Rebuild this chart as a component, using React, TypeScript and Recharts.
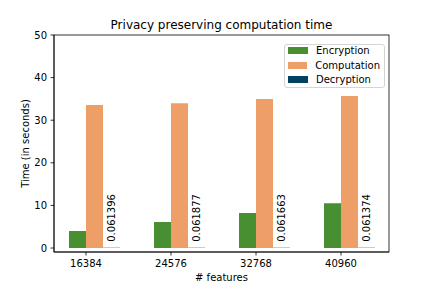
import { BarChart, Bar, XAxis, YAxis, Legend, LabelList } from 'recharts'

const features = ['16384', '24576', '32768', '40960']
const encryption = [4.0, 6.1, 8.2, 10.5]
const computation = [33.6, 34.0, 35.0, 35.7]
const decryption = [0.061396, 0.061877, 0.061663, 0.061374]
const yTicks = [0, 10, 20, 30, 40, 50]

const SERIES = [
	{ key: 'encryption', name: 'Encryption', color: '#488f31' },
	{ key: 'computation', name: 'Computation', color: '#ee9f67' },
	{ key: 'decryption', name: 'Decryption', color: '#00425f' },
]

const data = features.map((f, i) => ({
	feature: f,
	encryption: encryption[i],
	computation: computation[i],
	decryption: decryption[i],
}))

const FONT = '"DejaVu Sans", sans-serif'
const BAR = 17
const TEXT = '#000'

// plot frame (matplotlib draws all four spines)
const PLOT = { left: 54, top: 35, right: 389, bottom: 252 }

// matplotlib puts the tick at the left edge of the middle bar, not the group centre
function FeatureTick(props: any) {
	const { x, y, payload } = props
	const tx = x - BAR / 2
	return (
		<g>
			<line x1={tx} x2={tx} y1={y - 7} y2={y - 3.5} stroke={TEXT} strokeWidth={0.8} />
			<text x={tx} y={y} dy="0.75em" textAnchor="middle" fontSize={10} fontFamily={FONT} fill={TEXT}>
				{payload.value}
			</text>
		</g>
	)
}

function VerticalValue(props: any) {
	const { x, y, width, value } = props
	const cx = x + width / 2
	const by = y - 6
	return (
		<text
			x={cx}
			y={by}
			transform={`rotate(-90 ${cx} ${by})`}
			dy="0.35em"
			textAnchor="start"
			fontSize={10}
			fontFamily={FONT}
			fill={TEXT}>
			{value}
		</text>
	)
}

function LegendBox() {
	return (
		<div
			style={{
				border: '1px solid #d5d5d5',
				borderRadius: 3,
				background: 'rgba(255,255,255,0.8)',
				height: 44,
				padding: '0 4px 0 3px',
				fontFamily: FONT,
				fontSize: 10,
				color: TEXT,
				boxSizing: 'border-box',
			}}>
			<div style={{ marginTop: -2 }}>
				{SERIES.map((s) => (
					<div key={s.key} style={{ display: 'flex', alignItems: 'center', height: 14.75 }}>
						<span style={{ width: 20, height: 7, background: s.color, marginRight: 8 }} />
						<span>{s.name}</span>
					</div>
				))}
			</div>
		</div>
	)
}

export default function App() {
	return (
		<div style={{ position: 'absolute', left: 0, top: 0, background: '#fff' }}>
			<BarChart
				width={432}
				height={288}
				data={data}
				margin={{ top: PLOT.top, right: 432 - PLOT.right, bottom: 6, left: 24 }}
				barCategoryGap={BAR}
				barGap={0}>
				<text x={221.5} y={29} textAnchor="middle" fontSize={12} fontFamily={FONT} fill={TEXT}>
					Privacy preserving computation time
				</text>
				<text
					x={25}
					y={143.5}
					transform="rotate(-90 25 143.5)"
					textAnchor="middle"
					dy="0.35em"
					fontSize={10}
					fontFamily={FONT}
					fill={TEXT}>
					Time (in seconds)
				</text>
				<text x={221.5} y={281} textAnchor="middle" fontSize={10} fontFamily={FONT} fill={TEXT}>
					# features
				</text>
				<XAxis
					dataKey="feature"
					height={30}
					padding={{ left: -2, right: -3 }}
					axisLine={{ stroke: TEXT, strokeWidth: 0.8 }}
					tickLine={false}
					tickSize={3.5}
					tickMargin={3.5}
					tick={<FeatureTick />}
					interval={0}
				/>
				<YAxis
					width={30}
					domain={[-0.93, 50]}
					ticks={yTicks}
					allowDataOverflow
					axisLine={{ stroke: TEXT, strokeWidth: 0.8 }}
					tickLine={{ stroke: TEXT, strokeWidth: 0.8 }}
					tickSize={3.5}
					tickMargin={3.5}
					tick={{ fontSize: 10, fontFamily: FONT, fill: TEXT }}
				/>
				<rect
					x={PLOT.left}
					y={PLOT.top}
					width={PLOT.right - PLOT.left}
					height={PLOT.bottom - PLOT.top}
					fill="none"
					stroke={TEXT}
					strokeWidth={0.8}
				/>
				<Legend
					layout="vertical"
					align="center"
					verticalAlign="middle"
					wrapperStyle={{ left: 284, top: 44, width: 101 }}
					content={<LegendBox />}
				/>
				{SERIES.map((s) => (
					<Bar key={s.key} dataKey={s.key} name={s.name} fill={s.color} barSize={BAR} isAnimationActive={false}>
						{s.key === 'decryption' && <LabelList dataKey="decryption" content={<VerticalValue />} />}
					</Bar>
				))}
			</BarChart>
		</div>
	)
}
